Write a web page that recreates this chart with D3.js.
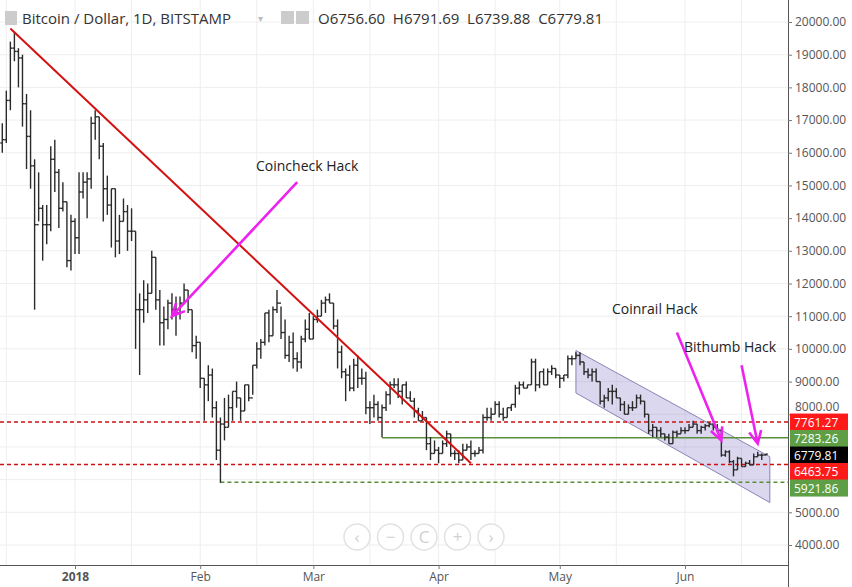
<!DOCTYPE html>
<html><head><meta charset="utf-8">
<script src="https://cdn.jsdelivr.net/npm/d3@7"></script>
<style>body{margin:0;background:#fff}svg{display:block;font-family:"Open Sans",sans-serif}</style>
</head><body><svg id="c" width="852" height="587"></svg>
<script>
const startDate = "2017-12-14";
const firstOpen = 16300;
const closes = [16400,17600,19200,19100,18900,17500,16500,15600,13800,14300,13800,13800,15800,15400,14300,14500,12700,13900,
13400,14800,15100,15200,16900,17100,16200,14900,14400,14900,13300,13900,14200,13600,13600,11200,11200,11500,11700,12800,11500,10800,10900,11400,11200,11100,11400,11800,11200,10100,10200,
9100,8900,9200,8200,6900,7700,7600,8200,8700,8500,8100,8900,8500,9500,10000,10200,11100,10400,11200,11400,10500,9800,10200,9700,9600,10300,10600,10300,
10900,11000,11400,11500,11400,10700,9900,9300,9200,8800,9500,9100,9100,8200,8200,8300,7900,8200,8600,8900,8900,8700,8900,8500,8400,8100,7800,7900,7100,6800,6900,
6800,7100,7400,6800,6800,6600,6900,7000,6800,6800,6900,7900,7900,8000,8300,8000,7900,8200,8300,8800,8900,8800,8900,9600,8900,9300,8900,9300,9400,9200,
9100,9200,9700,9700,9800,9600,9300,9200,9300,9000,8400,8500,8700,8700,8500,8300,8000,8200,8200,8500,8400,8000,7500,7600,7500,7400,7300,7100,7450,7400,7500,
7500,7600,7700,7500,7600,7650,7700,7600,7500,6750,6850,6550,6300,6650,6400,6500,6450,6700,6750,6750,6779.81];
const highs = [16900,17900,19400,19700,19200,19000,17800,17300,15800,15400,14400,14400,16200,16400,15500,15100,14500,14100,
14000,15400,15400,15400,17100,17300,17100,16300,15300,14900,14900,14100,14600,14400,14300,13600,11700,12100,12000,13000,12800,11800,11300,11500,11700,11600,11600,12000,11800,11200,10400,
10200,9100,9500,9400,8400,7900,8500,8600,8700,9000,8500,8900,8900,9500,10200,10300,11100,11200,11300,11800,11300,10900,10400,10500,9900,10400,10900,11100,
11000,11200,11500,11600,11700,11400,10900,10100,9400,9500,9700,9800,9400,9300,8400,8600,8400,8300,8700,9000,9100,9100,8900,9000,8700,8500,8200,8100,7900,7300,7200,
7000,7200,7500,7400,6900,6900,7100,7100,7200,6900,7000,8000,8200,8200,8400,8400,8200,8200,8300,8900,9000,9000,8900,9700,9700,9300,9400,9400,9500,9400,
9200,9200,9800,9800,9900,9900,9600,9400,9400,9400,9000,8600,8800,8900,8800,8500,8400,8300,8400,8600,8600,8400,8000,7700,7600,7600,7400,7400,7500,7500,7600,
7600,7700,7800,7700,7650,7700,7750,7700,7700,7500,6900,6900,6600,6700,6650,6550,6600,6800,6850,6800,6791.69];
const lows = [16000,16300,17300,18800,18000,16800,15500,14900,11200,13900,12700,13200,13600,14800,13700,14200,12500,12400,
12900,12900,14600,14000,14900,16400,15800,13900,14100,13100,12800,12900,13900,13000,13300,10000,9200,10800,11100,11700,11200,10100,10100,10600,10900,10400,10900,11400,11100,9900,9700,
8800,7800,8400,7900,6600,5900,7200,7600,7800,8200,7800,8100,8400,8600,9400,9700,10100,10200,10400,11100,10300,9700,9600,9400,9300,9400,10200,10300,
10300,10800,11000,11100,11400,10600,9400,9100,8400,8700,8700,8800,8900,8000,7700,7900,7800,7300,8100,8300,8800,8500,8300,8500,8400,7900,7800,7800,6900,6600,6800,
6500,6800,7000,6700,6600,6500,6600,6900,6600,6700,6800,6800,7800,7800,8000,7900,7800,7900,8100,8200,8600,8800,8800,8900,8700,8800,8900,8900,9200,9100,
8800,9000,9100,9500,9700,9500,9200,9100,9000,9000,8300,8200,8400,8300,8500,8100,8000,8000,8100,8200,8300,7900,7400,7300,7300,7300,7200,7100,7100,7300,7400,
7400,7500,7600,7400,7400,7500,7600,7500,7450,6700,6700,6500,6100,6300,6400,6400,6450,6450,6700,6600,6739.88];
const yTicks = [4000,5000,8000,9000,10000,11000,12000,13000,14000,15000,16000,17000,18000,19000,20000];
const gridTicks = [4000,5000,6000,7000,8000,9000,10000,11000,12000,13000,14000,15000,16000,17000,18000,19000,20000];
const monthTicks = ["2018-01-01","2018-02-01","2018-03-01","2018-04-01","2018-05-01","2018-06-01"];
const monthLabels = ["2018","Feb","Mar","Apr","May","Jun"];
const levels = [
 {v:7761.27, color:"#d01010", dash:"4,3", from:"2017-12-01", tag:"#ff1a1a"},
 {v:7283.26, color:"#5a8f3a", dash:null, from:"2018-03-18", tag:"#5e9f45"},
 {v:6779.81, color:null, dash:null, from:null, tag:"#000"},
 {v:6463.75, color:"#d01010", dash:"4,3", from:"2017-12-01", tag:"#ff1a1a"},
 {v:5921.86, color:"#5a8f3a", dash:"4,3", from:"2018-02-06", tag:"#5e9f45"}];
const trend = [["2017-12-16",19800],["2018-04-09",6500]];
const channelTop = [["2018-05-05",9950],["2018-06-22",6700]];
const channelBot = [["2018-05-05",8650],["2018-06-22",5300]];
const arrows = [
 {label:"Coincheck Hack", lx:256, ly:171, from:["2018-02-25",15100], to:["2018-01-25",11000]},
 {label:"Coinrail Hack", lx:612, ly:314, from:["2018-05-30",10500], to:["2018-06-10",7200]},
 {label:"Bithumb Hack", lx:684, ly:352, from:["2018-06-15",9500], to:["2018-06-19",7100]}];

const P = d3.timeParse("%Y-%m-%d");
const svg = d3.select("#c");
const x = d3.scaleTime().domain([P("2018-01-01"),P("2018-06-01")]).range([75,685]);
const y = d3.scaleLinear().domain([4000,20000]).range([545,22]);
const R = 788, B = 565;
const dates = d3.timeDay.range(P(startDate), d3.timeDay.offset(P(startDate), closes.length));

svg.append("g").selectAll("line").data(gridTicks).join("line")
 .attr("x1",0).attr("x2",R).attr("y1",d=>y(d)).attr("y2",d=>y(d)).attr("stroke","#eeeeee");
const vg = monthTicks.map(P).concat(["2017-12-15","2018-01-15","2018-02-15","2018-03-15","2018-04-15","2018-05-15","2018-06-15"].map(P));
svg.append("g").selectAll("line").data(vg).join("line")
 .attr("x1",d=>x(d)).attr("x2",d=>x(d)).attr("y1",0).attr("y2",B).attr("stroke","#eeeeee");

const pt = d=>[x(P(d[0])),y(d[1])];
svg.append("polygon").attr("points",[pt(channelTop[0]),pt(channelTop[1]),pt(channelBot[1]),pt(channelBot[0])].map(p=>p.join(",")).join(" "))
 .attr("fill","rgba(150,140,205,0.35)").attr("stroke","#8a84b5").attr("stroke-width",1);

levels.filter(l=>l.color).forEach(l=>{
 svg.append("line").attr("x1",Math.max(0,x(P(l.from)))).attr("x2",R).attr("y1",y(l.v)).attr("y2",y(l.v))
  .attr("stroke",l.color).attr("stroke-width",1.5).attr("stroke-dasharray",l.dash);
});

const g = svg.append("g").attr("stroke","#2a2a2a").attr("stroke-width",1.4);
dates.forEach((d,i)=>{
 const cx = x(d), o = i? closes[i-1] : firstOpen;
 const oo = i===closes.length-1 ? 6756.60 : o;
 g.append("line").attr("x1",cx).attr("x2",cx).attr("y1",y(highs[i])).attr("y2",y(lows[i]));
 g.append("line").attr("x1",cx-2).attr("x2",cx).attr("y1",y(oo)).attr("y2",y(oo));
 g.append("line").attr("x1",cx).attr("x2",cx+2).attr("y1",y(closes[i])).attr("y2",y(closes[i]));
});

svg.append("line").attr("x1",pt(trend[0])[0]).attr("y1",pt(trend[0])[1]).attr("x2",pt(trend[1])[0]).attr("y2",pt(trend[1])[1])
 .attr("stroke","#d41111").attr("stroke-width",2);

arrows.forEach(a=>{
 const [x1,y1]=pt(a.from),[x2,y2]=pt(a.to);
 const ang=Math.atan2(y2-y1,x2-x1), h=14, s=0.45;
 svg.append("path").attr("d",`M${x1},${y1}L${x2},${y2}M${x2-h*Math.cos(ang-s)},${y2-h*Math.sin(ang-s)}L${x2},${y2}L${x2-h*Math.cos(ang+s)},${y2-h*Math.sin(ang+s)}`)
  .attr("stroke","#ee22ee").attr("stroke-width",2.6).attr("fill","none");
 svg.append("text").attr("x",a.lx).attr("y",a.ly).attr("font-size",14).attr("fill","#222").text(a.label);
});

svg.append("rect").attr("x",R).attr("y",0).attr("width",852-R).attr("height",587).attr("fill","#fff");
svg.append("rect").attr("x",0).attr("y",B).attr("width",R).attr("height",22).attr("fill","#fff");
svg.append("line").attr("x1",R+0.5).attr("x2",R+0.5).attr("y1",0).attr("y2",587).attr("stroke","#555");
svg.append("line").attr("x1",0).attr("x2",R).attr("y1",B+0.5).attr("y2",B+0.5).attr("stroke","#555");
const ax = d3.axisRight(y).tickValues(yTicks).tickSize(4).tickFormat(d3.format(".2f"));
const ag = svg.append("g").attr("transform",`translate(${R},0)`).call(ax);
ag.select(".domain").remove();
ag.selectAll("line").attr("stroke","#777");
ag.selectAll("text").attr("font-size",12).attr("fill","#555").attr("x",7).attr("font-family","Open Sans")
 .attr("dy",(d)=>d===8000?"-0.3em":"0.32em");
let prev = -100;
levels.forEach(l=>{
 let ty = Math.max(y(l.v), prev+16.5); prev = ty;
 svg.append("rect").attr("x",R+2).attr("y",ty-8.5).attr("width",58).attr("height",17).attr("fill",l.tag);
 svg.append("text").attr("x",R+6).attr("y",ty+4.5).attr("font-size",12).attr("fill","#fff").text(l.v.toFixed(2));
});

const bx = svg.append("g").attr("transform",`translate(0,${B})`)
 .call(d3.axisBottom(x).tickValues(monthTicks.map(P)).tickSize(4).tickFormat((d,i)=>monthLabels[i]));
bx.select(".domain").remove();
bx.selectAll("line").attr("stroke","#777");
bx.selectAll("text").attr("font-size",12).attr("fill","#555").attr("font-family","Open Sans")
 .attr("font-weight",(d,i)=>i===0?"bold":"normal");

const btn=["‹","−","C","+","›"];
btn.forEach((b,i)=>{
 const cx=357+i*33.5;
 svg.append("circle").attr("cx",cx).attr("cy",537).attr("r",13).attr("fill","#fff").attr("stroke","#e2e2e2").attr("stroke-width",1.5);
 svg.append("text").attr("x",cx).attr("y",543).attr("text-anchor","middle").attr("font-size",17).attr("fill","#d0d0d0").text(b);
});

svg.append("rect").attr("x",5).attr("y",11).attr("width",12).attr("height",14).attr("fill","#ccc");
svg.append("text").attr("x",22).attr("y",24).attr("font-size",15).attr("fill","#333").text("Bitcoin / Dollar, 1D, BITSTAMP");
svg.append("text").attr("x",258).attr("y",22).attr("font-size",10).attr("fill","#bbb").text("▾");
svg.append("rect").attr("x",281).attr("y",11).attr("width",13).attr("height",13).attr("fill","#ccc");
svg.append("rect").attr("x",296).attr("y",11).attr("width",13).attr("height",13).attr("fill","#ccc");
svg.append("text").attr("x",318).attr("y",24).attr("font-size",15).attr("fill","#333")
 .text("O6756.60  H6791.69  L6739.88  C6779.81").style("white-space","pre");
</script></body></html>
